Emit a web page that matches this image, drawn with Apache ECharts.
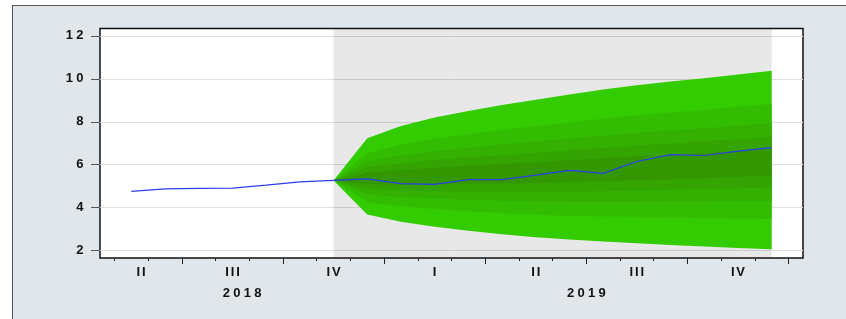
<!DOCTYPE html>
<html>
<head>
<meta charset="utf-8">
<script src="https://cdn.jsdelivr.net/npm/echarts@6/dist/echarts.min.js"></script>
<style>
html,body{margin:0;padding:0;background:#fff;overflow:hidden}
#frame{position:absolute;left:12px;top:5px;width:900px;height:400px;background:#e1e6eb;border-left:1.5px solid #555;border-top:1.5px solid #555}
#chart{position:absolute;left:0;top:0;width:846px;height:319px}
</style>
</head>
<body>
<div id="frame"></div>
<div id="chart"></div>
<script>
// monthly observations, 2018M05 .. 2019M12 (x = position in this list)
var months = ['2018M05','2018M06','2018M07','2018M08','2018M09','2018M10','2018M11','2018M12',
	'2019M01','2019M02','2019M03','2019M04','2019M05','2019M06','2019M07','2019M08','2019M09','2019M10','2019M11','2019M12'];
var path = [4.76,4.88,4.90,4.91,5.05,5.20,5.27,5.34,5.12,5.09,5.31,5.31,5.52,5.74,5.60,6.15,6.47,6.43,6.63,6.80];

// fan bounds, 2018M11 .. 2019M12
var fanStart = 6;
var up95 = [5.27,7.23,7.80,8.20,8.50,8.78,9.03,9.27,9.50,9.70,9.87,10.03,10.20,10.37];
var up80 = [5.27,6.55,6.94,7.21,7.42,7.62,7.80,7.97,8.14,8.30,8.43,8.56,8.70,8.83];
var up60 = [5.27,6.16,6.43,6.63,6.79,6.94,7.08,7.22,7.35,7.48,7.59,7.70,7.82,7.94];
var up40 = [5.27,5.88,6.07,6.22,6.34,6.45,6.56,6.68,6.79,6.89,6.99,7.09,7.19,7.30];
var up20 = [5.27,5.63,5.76,5.86,5.95,6.03,6.11,6.21,6.30,6.39,6.47,6.55,6.65,6.74];
var lo20 = [5.27,5.10,5.09,5.10,5.11,5.13,5.15,5.20,5.24,5.28,5.33,5.38,5.44,5.50];
var lo40 = [5.27,4.87,4.81,4.77,4.75,4.74,4.74,4.76,4.77,4.80,4.83,4.86,4.89,4.93];
var lo60 = [5.27,4.62,4.50,4.43,4.37,4.32,4.29,4.28,4.28,4.28,4.29,4.29,4.31,4.33];
var lo80 = [5.27,4.26,4.07,3.94,3.83,3.74,3.67,3.62,3.59,3.56,3.53,3.51,3.49,3.48];
var lo95 = [5.27,3.68,3.35,3.12,2.93,2.76,2.63,2.52,2.43,2.35,2.27,2.20,2.13,2.07];

// axis marks
var yTicks = [2,4,6,8,10,12];
var monthEdges = [-0.5,0.5,1.5,2.5,3.5,4.5,5.5,6.5,7.5,8.5,9.5,10.5,11.5,12.5,13.5,14.5,15.5,16.5,17.5,18.5,19.5];
var quarterEdges = [1.5,4.5,7.5,10.5,13.5,16.5,19.5];
var quarterPos = [0.29,3,6,9,12,15,18];
var quarterNames = ['II','III','IV','I','II','III','IV'];
var yearPos = [3.29,13.5];
var yearNames = ['2018','2019'];
var shades = ['#33cc00','#33bd00','#33b000','#33a400','#339800'];

var xMin = -0.93, xMax = 19.93;
var font = 'Liberation Sans, Arial, sans-serif';

// nested bands, outermost first
var bands = [[up95,lo95],[up80,lo80],[up60,lo60],[up40,lo40],[up20,lo20]];

function pts(arr, off){
	var out = [];
	for(var i=0;i<arr.length;i++) out.push([i+off, arr[i]]);
	return out;
}
// the old EViews labels are drawn wide: put every character in its own box
function wide(s){
	var out = '';
	for(var i=0;i<s.length;i++) out += '{' + (s[i]=='I' ? 'n' : 'w') + '|' + s[i] + '}';
	return out;
}
function lookup(pos, names){
	return function(v){
		for(var i=0;i<pos.length;i++) if(Math.abs(pos[i]-v)<1e-6) return wide(names[i]);
		return '';
	};
}
var txt = {color:'#111', fontSize:13, fontFamily:font, fontWeight:'bold', align:'center'};
var rich = {w:Object.assign({width:10.5}, txt), n:Object.assign({width:5.5}, txt)};

function renderBand(params, api){
	var k = api.value(0);
	var up = bands[k][0], lo = bands[k][1];
	var poly = [];
	for(var i=0;i<up.length;i++) poly.push(api.coord([i+fanStart, up[i]]));
	for(var j=lo.length-1;j>=0;j--) poly.push(api.coord([j+fanStart, lo[j]]));
	return {type:'polygon', shape:{points:poly}, style:{fill:shades[k]}};
}

var baseX = {type:'value', min:xMin, max:xMax, position:'bottom',
	axisLine:{show:false, onZero:false}, splitLine:{show:false}};
var myChart = echarts.init(document.getElementById('chart'));
myChart.setOption({
	animation:false,
	grid:{left:100, top:28.5, right:43, bottom:61, show:true, backgroundColor:'#fff', borderColor:'#111', borderWidth:1.5},
	xAxis:[
		Object.assign({}, baseX, {
			axisTick:{customValues:monthEdges, length:3, lineStyle:{color:'#222'}},
			axisLabel:{show:false}
		}),
		Object.assign({}, baseX, {
			axisTick:{customValues:quarterEdges, length:6, lineStyle:{color:'#222'}},
			axisLabel:{customValues:quarterPos, formatter:lookup(quarterPos,quarterNames), margin:8, rich:rich}
		}),
		Object.assign({}, baseX, {
			axisTick:{show:false},
			axisLabel:{customValues:yearPos, formatter:lookup(yearPos,yearNames), margin:29, rich:rich}
		})
	],
	yAxis:{
		type:'value', min:1.66, max:12.34, position:'left',
		axisLine:{show:false, onZero:false},
		axisTick:{customValues:yTicks, length:9, lineStyle:{color:'#555'}},
		axisLabel:{customValues:yTicks, margin:15, rich:rich,
			formatter:function(v){ return wide(String(v)); }},
		splitLine:{show:true, lineStyle:{color:'#dedede', width:1}}
	},
	series:[{
		name:'shade', type:'line', data:[], silent:true,
		markArea:{silent:true, itemStyle:{color:'rgba(0,0,0,0.09)'},
			data:[[{xAxis:fanStart},{xAxis:months.length-1}]]}
	},{
		name:'fan', type:'custom', renderItem:renderBand, silent:true, z:3,
		data:[[0],[1],[2],[3],[4]]
	},{
		name:'path', type:'line', data:pts(path,0), symbol:'none', z:5,
		lineStyle:{color:'#2b3cf0', width:1.2}
	}]
});
</script>
</body>
</html>
